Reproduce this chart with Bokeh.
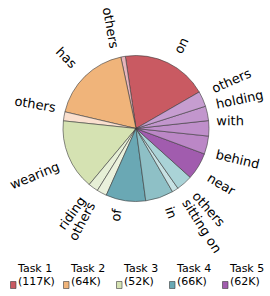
import math
from bokeh.plotting import figure
from bokeh.models import Range1d, ColumnDataSource
from bokeh.core.properties import value
from bokeh.embed import file_html
from bokeh.resources import INLINE

# ---------------- data ----------------
tasks = ["Task 1", "Task 2", "Task 3", "Task 4", "Task 5"]
task_counts = ["(117K)", "(64K)", "(52K)", "(66K)", "(62K)"]
task_colors = ["#c95a62", "#f0b47a", "#d5e2b2", "#6aa8b4", "#a15cae"]

t1_labels = ["on", "others"]
t1_values = [95, 5]
t1_colors = ["#c95a62", "#e8b4bb"]

t2_labels = ["has", "others"]
t2_values = [90, 10]
t2_colors = ["#f0b47a", "#fae0cf"]

t3_labels = ["wearing", "riding", "others"]
t3_values = [78, 11, 11]
t3_colors = ["#d5e2b2", "#e6efd6", "#eaf1dc"]

t4_labels = ["of", "in", "sitting on", "others"]
t4_values = [44, 31, 7, 18]
t4_colors = ["#6aa8b4", "#8ec0c6", "#c6e1e3", "#aad3d7"]

t5_labels = ["near", "behind", "with", "holding", "others"]
t5_values = [30, 20, 17, 16, 17]
t5_colors = ["#a15cae", "#bb87c6", "#bf8fca", "#c296cd", "#c69dd0"]

groups = [
    (t1_labels, t1_values, t1_colors),
    (t2_labels, t2_values, t2_colors),
    (t3_labels, t3_values, t3_colors),
    (t4_labels, t4_values, t4_colors),
    (t5_labels, t5_values, t5_colors),
]

# ---------------- layout ----------------
W, H = 270, 296
CX, CY, R = 135.5, 168.0, 73.0
START = math.radians(30)
LABEL_FS = 13.0
LEG_FS = 11.0

CW = {'a': .613, 'b': .635, 'c': .550, 'd': .635, 'e': .615, 'f': .352, 'g': .635,
      'h': .634, 'i': .278, 'n': .634, 'o': .612, 'r': .411, 's': .521, 't': .392,
      'w': .818, 'l': .278, ' ': .318, 'T': .611, 'k': .579, 'K': .656, '(': .390,
      ')': .390, 'y': .592, 'u': .634, 'p': .635, 'm': .974}


def text_w(s, fs):
    return sum(CW.get(ch, 0.6) for ch in s) * fs


p = figure(width=W, height=H, x_range=Range1d(0, W), y_range=Range1d(0, H),
           x_axis_type=None, y_axis_type=None, toolbar_location=None,
           output_backend="svg", min_border=0, outline_line_color=None,
           background_fill_color="white", border_fill_color="white")
p.grid.visible = False

wx, wy, ws, we, wc = [], [], [], [], []
lx, ly, lt, la = [], [], [], []
share = 2 * math.pi / len(groups)
ang = START
for labels, vals, cols in groups:
    tot = float(sum(vals))
    for lab, v, c in zip(labels, vals, cols):
        span = share * v / tot
        a0, a1 = ang, ang + span
        wx.append(CX); wy.append(CY); ws.append(a0); we.append(a1); wc.append(c)
        # matplotlib-like rotated label placement
        th = (a0 + a1) / 2
        xt = CX + 1.1 * R * math.cos(th)
        yt = CY + 1.1 * R * math.sin(th)
        right = math.cos(th) > 0
        up = math.sin(th) > 0
        rot = th if right else th + math.pi
        w = text_w(lab, LABEL_FS)
        h = 1.164 * LABEL_FS
        bw = w * abs(math.cos(rot)) + h * abs(math.sin(rot))
        bh = w * abs(math.sin(rot)) + h * abs(math.cos(rot))
        cx = xt + bw / 2 if right else xt - bw / 2
        cy = yt + bh / 2 if up else yt - bh / 2
        lx.append(cx); ly.append(cy); lt.append(lab); la.append(rot)
        ang = a1

src = ColumnDataSource(dict(x=wx, y=wy, s=ws, e=we, c=wc))
p.wedge(x='x', y='y', radius=R, start_angle='s', end_angle='e', fill_color='c',
        line_color="#3a3a3a", line_width=0.6, source=src)

lsrc = ColumnDataSource(dict(x=lx, y=ly, t=lt, a=la))
p.text(x='x', y='y', text='t', angle='a', source=lsrc, text_align='center',
       text_baseline='middle', text_font=value("DejaVu Sans"),
       text_font_size=f"{LABEL_FS}px", text_color="black")

# ---------------- legend ----------------
leg_x0 = [10 + 53 * i for i in range(len(tasks))]
p.rect(x=[x + 2.75 for x in leg_x0], y=[11.5] * len(tasks), width=5.5, height=7,
       fill_color=task_colors, line_color="#3a3a3a", line_width=0.6)
p.text(x=[x + 7.5 for x in leg_x0], y=[28.0] * len(tasks), text=tasks,
       text_align='left', text_baseline='middle', text_font=value("DejaVu Sans"),
       text_font_size=f"{LEG_FS}px", text_color="black")
p.text(x=[x + 7.5 for x in leg_x0], y=[15.0] * len(tasks), text=task_counts,
       text_align='left', text_baseline='middle', text_font=value("DejaVu Sans"),
       text_font_size=f"{LEG_FS}px", text_color="black")

open("out.html", "w").write(file_html(p, INLINE))
